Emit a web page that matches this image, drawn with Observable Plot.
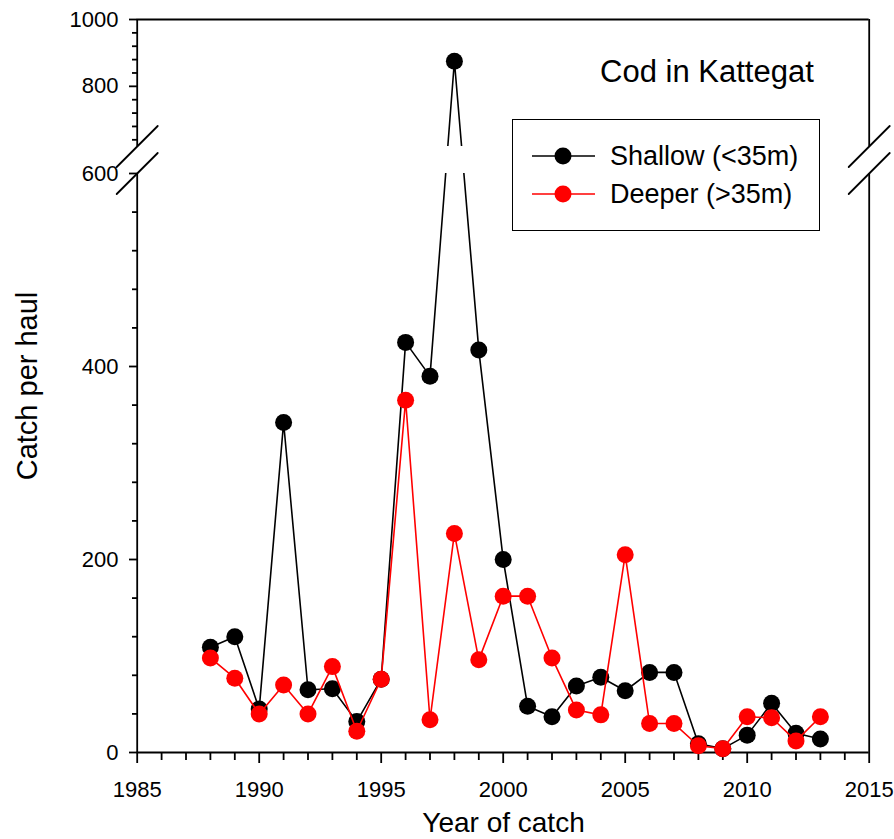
<!DOCTYPE html>
<html>
<head>
<meta charset="utf-8">
<script src="https://cdn.jsdelivr.net/npm/d3@7"></script>
<script src="https://cdn.jsdelivr.net/npm/@observablehq/plot@0.6"></script>
<style>
  body { margin: 0; background: #fff; font-family: Arial, "Liberation Sans", sans-serif; }
  #wrap { position: relative; width: 894px; height: 839px; }
  .legbox { position: absolute; left: 512px; top: 119px; width: 308px; height: 112px; box-sizing: border-box; border: 1.8px solid #000; background: #fff; }
  .legtx { position: absolute; left: 610px; font-size: 27px; line-height: 27px; white-space: nowrap; color: #000; }
</style>
</head>
<body>
<div id="wrap"></div>
<script>
// ---- data ----
const years   = [1988,1989,1990,1991,1992,1993,1994,1995,1996,1997,1998,1999,2000,2001,2002,2003,2004,2005,2006,2007,2008,2009,2010,2011,2012,2013];
const shallow = [109,120,45,342,65,66,32,76,425,390,875,417,200,48,37,69,78,64,83,83,9,4,18,51,20,14];
const deeper  = [98,77,40,70,40,89,22,76,365,34,227,96,162,162,98,44,39,205,30,30,7,4,37,36,12,37];
const seriesNames = ["Shallow (<35m)", "Deeper (>35m)"];
const seriesColors = ["#000000", "#ff0000"];

const yMajorTicks = [0,200,400,600,800,1000];
const yMinorTicks = [40,80,120,160,240,280,320,360,440,480,520,560,640,680,720,760,840,880,920,960];
const xMajorTicks = [1985,1990,1995,2000,2005,2010,2015];
const xMinorTicks = [1986,1987,1988,1989,1991,1992,1993,1994,1996,1997,1998,1999,2001,2002,2003,2004,2006,2007,2008,2009,2011,2012,2013,2014];
const xDomain = [1985, 2015];
const yDomain = [0, 600, 620, 1000];   // broken axis: 600..620 is the gap
const yBreak = [600, 620];
const gapYears = [1997, 1999];
const title = "Cod in Kattegat";
const xTitle = "Year of catch";
const yTitle = "Catch per haul";

// ---- build tables ----
const shallowData = years.map((year, i) => ({year, value: shallow[i]}));
const deeperData  = years.map((year, i) => ({year, value: deeper[i]}));
const axisSegments = [{x: xDomain[0], y1: yDomain[0], y2: yBreak[0]}, {x: xDomain[0], y1: yBreak[1], y2: yDomain[3]},
                      {x: xDomain[1], y1: yDomain[0], y2: yBreak[0]}, {x: xDomain[1], y1: yBreak[1], y2: yDomain[3]}];
const breakMarks = xDomain.flatMap(x => yBreak.map(y => ({x, y})));
const slash = { draw(context, l) { context.moveTo(0, 0); context.lineTo(0, -l); } };

const FONT = "Arial, 'Liberation Sans', sans-serif";
const SW = 1.8;
const fmt = d => String(d);

const chart = Plot.plot({
  width: 894,
  height: 839,
  marginLeft: 137, marginRight: 25, marginTop: 19, marginBottom: 87,
  style: { fontFamily: FONT, fontSize: "22px", background: "white", overflow: "visible" },
  x: { type: "linear", domain: xDomain, range: [136.7, 868.7] },
  y: { type: "linear", domain: yDomain, range: [752, 173, 146, 19] },
  marks: [
    // frame lines
    Plot.ruleX(axisSegments, {x: "x", y1: "y1", y2: "y2", stroke: "black", strokeWidth: SW}),
    Plot.ruleY([yDomain[0], yDomain[3]], {x1: xDomain[0], x2: xDomain[1], stroke: "black", strokeWidth: SW}),
    // axes
    Plot.axisY(yMajorTicks, {anchor: "left", tickSize: 8, tickPadding: 11, fontSize: 22, tickFormat: fmt, label: null, strokeWidth: SW, color: "black"}),
    Plot.axisY(yMinorTicks, {anchor: "left", tickSize: 5, tickFormat: () => "", label: null, strokeWidth: SW, color: "black"}),
    Plot.axisX(xMajorTicks, {anchor: "bottom", tickSize: 11, tickPadding: 18, fontSize: 22, tickFormat: fmt, label: null, strokeWidth: SW, color: "black"}),
    Plot.axisX(xMinorTicks, {anchor: "bottom", tickSize: 8, tickFormat: () => "", label: null, strokeWidth: SW, color: "black"}),
    // axis titles and chart title
    Plot.text([xTitle], {frameAnchor: "bottom", lineAnchor: "middle", dy: 70.5, fontSize: 28, fill: "black"}),
    Plot.text([yTitle], {frameAnchor: "left", lineAnchor: "middle", textAnchor: "middle", dx: -109.7, rotate: -90, fontSize: 29, fill: "black"}),
    Plot.text([title], {frameAnchor: "top-right", lineAnchor: "middle", dx: -55.7, dy: 53, textAnchor: "end", fontSize: 31, fill: "black"}),
    // shallow series
    Plot.line(shallowData, {x: "year", y: "value", stroke: seriesColors[0], strokeWidth: 1.6}),
    Plot.rect([gapYears], {x1: d => d[0], x2: d => d[1], y1: yBreak[0], y2: yBreak[1], fill: "white"}),
    Plot.dot(shallowData, {x: "year", y: "value", r: 8.5, fill: seriesColors[0]}),
    // deeper series
    Plot.line(deeperData, {x: "year", y: "value", stroke: seriesColors[1], strokeWidth: 1.6}),
    Plot.dot(deeperData, {x: "year", y: "value", r: 8.5, fill: seriesColors[1]}),
    // axis break marks
    Plot.vector(breakMarks, {x: "x", y: "y", length: 58, rotate: 45, anchor: "middle", shape: slash, stroke: "black", strokeWidth: SW})
  ]
});
chart.style.position = "absolute";
chart.style.left = "0px";
chart.style.top = "0px";

const wrap = document.getElementById("wrap");
wrap.appendChild(chart);

// legend
const box = document.createElement("div");
box.className = "legbox";
wrap.appendChild(box);
const rowsY = [156, 194];
seriesNames.forEach((name, i) => {
  const sw = document.createElementNS("http://www.w3.org/2000/svg", "svg");
  sw.setAttribute("width", 68); sw.setAttribute("height", 20);
  sw.style.position = "absolute";
  sw.style.left = "530px";
  sw.style.top = (rowsY[i] - 10) + "px";
  sw.innerHTML = `<line x1="2" x2="65" y1="10" y2="10" stroke="${seriesColors[i]}" stroke-width="1.6"/>` +
                 `<circle cx="33" cy="10" r="8.5" fill="${seriesColors[i]}"/>`;
  wrap.appendChild(sw);
  const tx = document.createElement("div");
  tx.className = "legtx";
  tx.textContent = name;
  tx.style.top = (rowsY[i] - 13.5) + "px";
  wrap.appendChild(tx);
});
</script>
</body>
</html>
